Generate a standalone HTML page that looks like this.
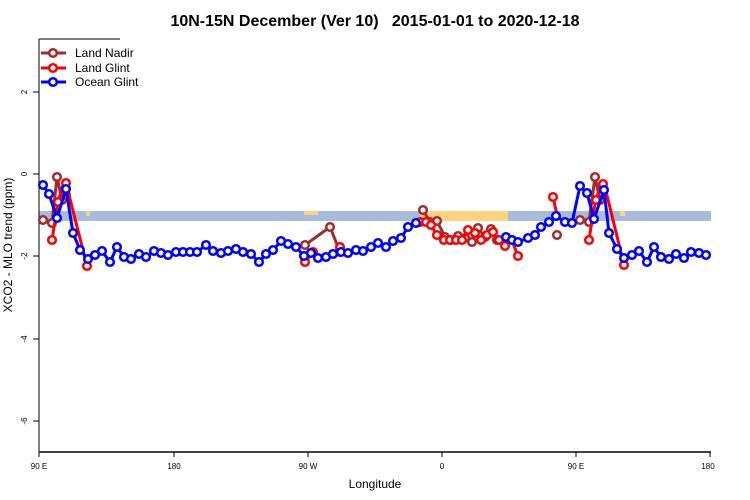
<!DOCTYPE html>
<html><head><meta charset="utf-8"><style>
body{margin:0;background:#fff}
svg{display:block;font-family:"Liberation Sans",sans-serif}
</style></head><body>
<svg width="750" height="500" viewBox="0 0 750 500">
<text x="375" y="26" text-anchor="middle" font-size="16" font-weight="bold">10N-15N December (Ver 10)&#160;&#160; 2015-01-01 to 2020-12-18</text>
<rect x="39" y="211" width="672" height="10" fill="#a7bcdc"/>
<rect x="420" y="211" width="88" height="10" fill="#fcd37a"/>
<rect x="304" y="211" width="14" height="4" fill="#fcd37a"/>
<rect x="86" y="211" width="4" height="5" fill="#fcd37a"/>
<rect x="620" y="211" width="5" height="5" fill="#fcd37a"/>
<line x1="39" y1="39" x2="39" y2="452" stroke="#000"/>
<line x1="39" y1="39" x2="120" y2="39" stroke="#000"/>
<line x1="39" y1="452" x2="711" y2="452" stroke="#444" stroke-width="2"/>
<g stroke="#000">
<line x1="33" y1="92" x2="39" y2="92"/><line x1="33" y1="174" x2="39" y2="174"/><line x1="33" y1="256" x2="39" y2="256"/><line x1="33" y1="339" x2="39" y2="339"/><line x1="33" y1="421" x2="39" y2="421"/>
<line x1="39" y1="452" x2="39" y2="457"/><line x1="174" y1="452" x2="174" y2="457"/><line x1="308" y1="452" x2="308" y2="457"/><line x1="442" y1="452" x2="442" y2="457"/><line x1="576" y1="452" x2="576" y2="457"/><line x1="710" y1="452" x2="710" y2="457"/>
</g>
<g font-size="8" text-anchor="middle">
<text transform="translate(27,92) rotate(-90)">2</text>
<text transform="translate(27,174) rotate(-90)">0</text>
<text transform="translate(27,256) rotate(-90)">-2</text>
<text transform="translate(27,339) rotate(-90)">-4</text>
<text transform="translate(27,421) rotate(-90)">-6</text>
<text x="39" y="469">90 E</text><text x="174" y="469">180</text><text x="308" y="469">90 W</text><text x="442" y="469">0</text><text x="576" y="469">90 E</text><text x="708" y="469">180</text>
</g>
<text x="375" y="488" text-anchor="middle" font-size="12">Longitude</text>
<text transform="translate(12,245) rotate(-90)" text-anchor="middle" font-size="12">XCO2 - MLO trend (ppm)</text>
<g fill="#fff" stroke-width="3">
<g stroke="#a52a2a">
<polyline fill="none" points="43,220 52,223 57,177 62,200 66,195"/>
<polyline fill="none" points="305,245 330,227 340,252"/>
<polyline fill="none" points="423,210 430,222 437,221 445,237 451,240 458,236 465,238 472,242 478,228 485,237 491,229 497,240"/>
<polyline fill="none" points="580,220 589,222 595,177 600,200"/>
<g stroke-width="2.5"><circle cx="43" cy="220" r="3.8"/><circle cx="52" cy="223" r="3.8"/><circle cx="57" cy="177" r="3.8"/><circle cx="62" cy="200" r="3.8"/><circle cx="66" cy="195" r="3.8"/>
<circle cx="305" cy="245" r="3.8"/><circle cx="330" cy="227" r="3.8"/><circle cx="340" cy="252" r="3.8"/>
<circle cx="423" cy="210" r="3.8"/><circle cx="430" cy="222" r="3.8"/><circle cx="437" cy="221" r="3.8"/><circle cx="445" cy="237" r="3.8"/><circle cx="451" cy="240" r="3.8"/><circle cx="458" cy="236" r="3.8"/><circle cx="465" cy="238" r="3.8"/><circle cx="472" cy="242" r="3.8"/><circle cx="478" cy="228" r="3.8"/><circle cx="485" cy="237" r="3.8"/><circle cx="491" cy="229" r="3.8"/><circle cx="497" cy="240" r="3.8"/>
<circle cx="557" cy="235" r="3.8"/><circle cx="580" cy="220" r="3.8"/><circle cx="589" cy="222" r="3.8"/><circle cx="595" cy="177" r="3.8"/><circle cx="600" cy="200" r="3.8"/></g>
</g>
<g stroke="#f00">
<polyline fill="none" points="52,240 58,202 63,185 66,183 87,266"/>
<polyline fill="none" points="305,262 313,252"/>
<polyline fill="none" points="335,248 340,247"/>
<polyline fill="none" points="420,222 426,222 431,225 437,235 444,240 450,240 456,240 462,240 468,230 475,233 481,240 487,235 493,232 499,240 505,246 511,238 518,256"/>
<polyline fill="none" points="553,197 557,215"/>
<polyline fill="none" points="589,240 593,214 596,200 601,184 604,183 624,265"/>
<g stroke-width="2.5"><circle cx="52" cy="240" r="3.8"/><circle cx="58" cy="202" r="3.8"/><circle cx="66" cy="183" r="3.8"/><circle cx="87" cy="266" r="3.8"/>
<circle cx="305" cy="262" r="3.8"/><circle cx="313" cy="252" r="3.8"/><circle cx="340" cy="247" r="3.8"/>
<circle cx="420" cy="222" r="3.8"/><circle cx="426" cy="222" r="3.8"/><circle cx="431" cy="225" r="3.8"/><circle cx="437" cy="235" r="3.8"/><circle cx="444" cy="240" r="3.8"/><circle cx="450" cy="240" r="3.8"/><circle cx="456" cy="240" r="3.8"/><circle cx="462" cy="240" r="3.8"/><circle cx="468" cy="230" r="3.8"/><circle cx="475" cy="233" r="3.8"/><circle cx="481" cy="240" r="3.8"/><circle cx="487" cy="235" r="3.8"/><circle cx="493" cy="232" r="3.8"/><circle cx="499" cy="240" r="3.8"/><circle cx="505" cy="246" r="3.8"/><circle cx="518" cy="256" r="3.8"/>
<circle cx="553" cy="197" r="3.8"/><circle cx="589" cy="240" r="3.8"/><circle cx="596" cy="200" r="3.8"/><circle cx="603" cy="184" r="3.8"/><circle cx="624" cy="265" r="3.8"/></g>
</g>
<g stroke="#00f">
<polyline id="b1" fill="none" points="43,185 49,194 57,218 66,189 73,233 80,250 88,259 95,255 102,251 110,262 117,247 124,257 131,259 139,254 146,257 154,251 161,253 168,255 176,252 183,252 190,252 197,252 206,245 213,251 221,253 228,251 236,249 243,252 251,254 259,262 266,254 273,250 281,241 288,244 296,247 304,256 311,253 318,258 326,257 333,254 341,252 348,253 356,250 363,251 371,247 378,243 386,247 393,241 401,238 408,227 416,223"/>
<polyline id="b2" fill="none" points="506,237 512,240 518,242 528,238 535,235 541,227 549,222 556,216 565,222 572,223 580,186 587,193 594,219 604,190 609,233 617,249 624,258 632,255 639,251 647,262 654,247 661,257 669,259 676,254 684,258 691,252 699,253 706,255"/>
</g>
<g stroke="#00f" stroke-width="2.5" id="bc"></g>
<line x1="41" y1="53" x2="66" y2="53" stroke="#a52a2a"/><circle cx="53" cy="53" r="3.8" stroke="#a52a2a" stroke-width="2.5"/>
<line x1="41" y1="68" x2="66" y2="68" stroke="#f00"/><circle cx="53" cy="68" r="3.8" stroke="#f00" stroke-width="2.5"/>
<line x1="41" y1="82" x2="66" y2="82" stroke="#00f"/><circle cx="53" cy="82" r="3.8" stroke="#00f" stroke-width="2.5"/>
</g>
<g font-size="12"><text x="75" y="57">Land Nadir</text><text x="75" y="72">Land Glint</text><text x="75" y="86">Ocean Glint</text></g>
<script>
var g=document.getElementById('bc');
['b1','b2'].forEach(function(id){
document.getElementById(id).getAttribute('points').trim().split(/\s+/).forEach(function(p){
var a=p.split(',');var c=document.createElementNS('http://www.w3.org/2000/svg','circle');
c.setAttribute('cx',a[0]);c.setAttribute('cy',a[1]);c.setAttribute('r','3.8');g.appendChild(c);});});
</script>
</svg>
</body></html>
